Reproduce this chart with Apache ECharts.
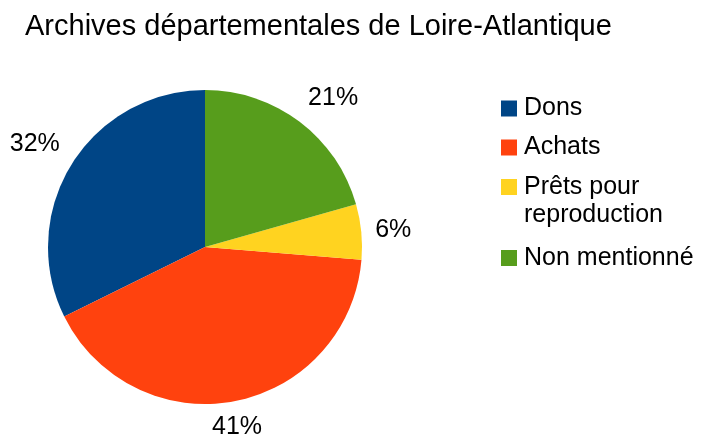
<!DOCTYPE html>
<html>
<head>
<meta charset="utf-8">
<script src="https://cdn.jsdelivr.net/npm/echarts@6/dist/echarts.min.js"></script>
<style>html,body{margin:0;padding:0;background:#fff}#c{width:701px;height:439px}</style>
</head>
<body>
<div id="c"></div>
<script>
const titleText = 'Archives départementales de Loire-Atlantique';
const categories = ['Dons', 'Achats', 'Prêts pour reproduction', 'Non mentionné'];
const values = [32.3, 41.4, 5.7, 20.6];
const colors = ['#004586', '#ff420e', '#ffd320', '#579d1c'];

const FONT = '"Liberation Sans", Arial, sans-serif';
const CX = 205, CY = 247, R = 157, LABEL_GAP = 14;
const chart = echarts.init(document.getElementById('c'), null, {renderer: 'canvas'});

const pieData = categories.map((n, i) => ({name: n, value: values[i], itemStyle: {color: colors[i]}}));
const labelData = categories.map((n, i) => ({name: n, value: values[i]}));

const legendTops = [94.5, 133.5, 145, 244];
const legends = categories.map((n, i) => ({
  data: [n],
  orient: 'vertical',
  left: 501,
  top: legendTops[i],
  padding: 0,
  icon: 'rect',
  itemWidth: 16,
  itemHeight: 16,
  itemGap: 0,
  selectedMode: false,
  formatter: name => name === 'Prêts pour reproduction' ? ' \nPrêts pour\nreproduction' : name,
  textStyle: {fontFamily: FONT, fontSize: 25, color: '#000', lineHeight: 28, padding: [0, 0, 0, 2]}
}));

chart.setOption({
  animation: false,
  backgroundColor: '#fff',
  title: {
    text: titleText,
    left: 25,
    top: 12,
    padding: 0,
    textStyle: {fontFamily: FONT, fontSize: 29, fontWeight: 'normal', color: '#000'}
  },
  legend: legends,
  series: [
    {
      type: 'pie',
      center: [CX, CY],
      radius: [0, R],
      startAngle: 90,
      clockwise: false,
      label: {show: false},
      labelLine: {show: false},
      itemStyle: {borderWidth: 0},
      emphasis: {disabled: true},
      data: pieData
    },
    {
      type: 'pie',
      center: [CX, CY],
      radius: [150, 230],
      startAngle: 90,
      clockwise: false,
      silent: true,
      itemStyle: {color: 'rgba(0,0,0,0)', borderWidth: 0},
      label: {
        show: true,
        position: 'inside',
        formatter: p => Math.round(p.percent) + '%',
        fontFamily: FONT,
        fontSize: 25,
        color: '#000'
      },
      labelLine: {show: false},
      labelLayout: function (params) {
        const r = params.labelRect;
        const mx = r.x + r.width / 2 - CX;
        const my = r.y + r.height / 2 - CY;
        const len = Math.sqrt(mx * mx + my * my) || 1;
        const ux = mx / len, uy = my / len;
        const d = R + LABEL_GAP;
        const align = Math.abs(ux) < 0.3 ? 'center' : (ux > 0 ? 'left' : 'right');
        const vAlign = Math.abs(uy) < 0.3 ? 'middle' : (uy > 0 ? 'top' : 'bottom');
        return {x: CX + ux * d, y: CY + uy * d, align: align, verticalAlign: vAlign};
      },
      emphasis: {disabled: true},
      data: labelData
    }
  ]
});
</script>
</body>
</html>
